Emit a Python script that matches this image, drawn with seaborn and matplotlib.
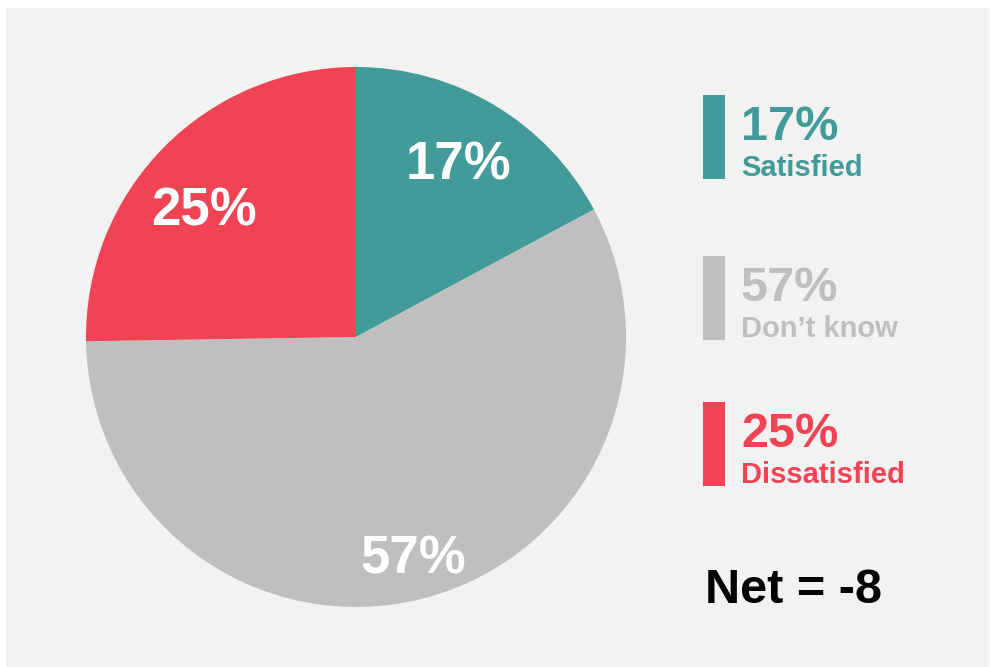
import numpy as np
import matplotlib.pyplot as plt
import matplotlib.patches as mpatches
import seaborn as sns

labels = ["Satisfied", "Don\u2019t know", "Dissatisfied"]
values = [17, 57, 25]
colors = ["#429a99", "#bfbfbf", "#f04455"]
net_text = "Net = -8"

sns.set_style("white")
plt.rcParams['font.family'] = ['Liberation Sans', 'DejaVu Sans']

W, H = 990, 667
fig = plt.figure(figsize=(W / 100, H / 100), dpi=100, facecolor="white")
ax = fig.add_axes([0, 0, 1, 1])

# grey panel
ax.add_patch(mpatches.Rectangle((6, 0), W - 7, H - 8, facecolor="#f2f2f2",
                                edgecolor="none", zorder=0))

# pie
cx, cy, r = 356, H - 337, 270
wedges, _ = ax.pie(values, colors=colors, startangle=90, counterclock=False,
                   center=(cx, cy), radius=r, frame=True,
                   wedgeprops=dict(linewidth=0))
ax.set_xlim(0, W)
ax.set_ylim(0, H)
ax.set_aspect("equal")
ax.axis("off")

# label placement inside the wedges (distance as fraction of radius, angle shift)
label_dist = [0.74, 0.85, 0.73]
label_shift = [0, 0, 5]
for w, v, d, s in zip(wedges, values, label_dist, label_shift):
    ang = np.deg2rad((w.theta1 + w.theta2) / 2 + s)
    ax.text(cx + d * r * np.cos(ang), cy + d * r * np.sin(ang), f"{v}%",
            ha="center", va="center", color="white", fontsize=38,
            fontweight="bold")

# legend blocks
bar_tops = [95, 256, 402]
for top, v, lab, c in zip(bar_tops, values, labels, colors):
    ax.add_patch(mpatches.Rectangle((703, H - top - 84), 22, 84,
                                    facecolor=c, edgecolor="none"))
    ax.text(741, H - top - 45, f"{v}%", ha="left", va="baseline",
            color=c, fontsize=35, fontweight="bold")
    ax.text(741, H - top - 81, lab, ha="left", va="baseline",
            color=c, fontsize=21, fontweight="bold")

ax.text(705, H - 603, net_text, ha="left", va="baseline", color="black",
        fontsize=35, fontweight="bold")

fig.savefig("out.png", dpi=100, facecolor="white")
